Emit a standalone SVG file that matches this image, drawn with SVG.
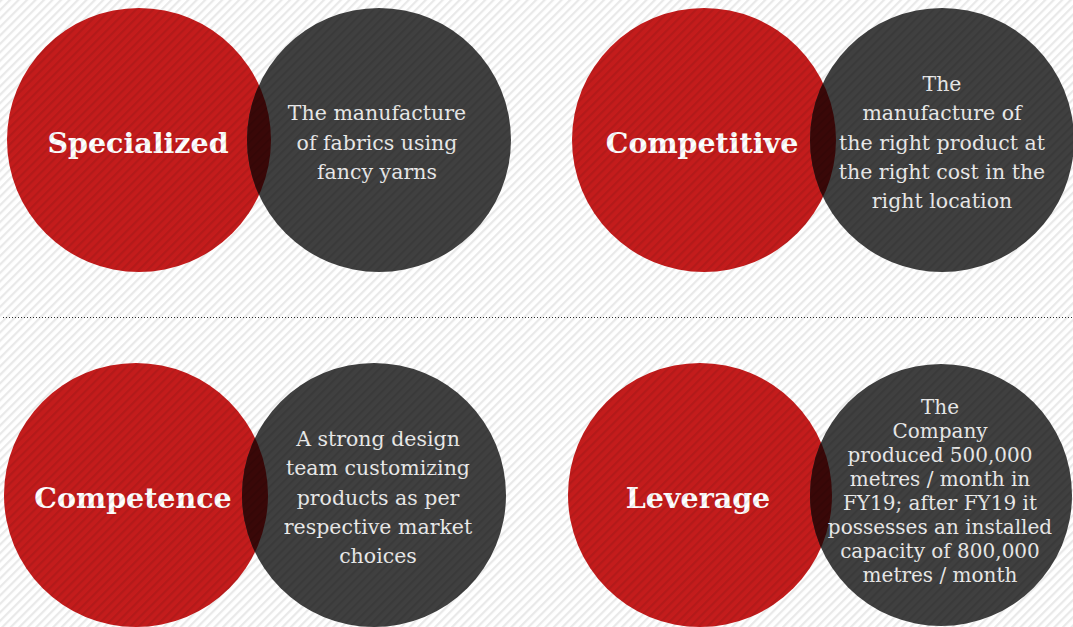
<svg xmlns="http://www.w3.org/2000/svg" width="1073" height="627" viewBox="0 0 1073 627">
<defs>
<pattern id="stripes" width="6" height="6" patternUnits="userSpaceOnUse" patternTransform="rotate(45)">
<rect x="0" y="0" width="2.2" height="6" fill="#000" fill-opacity="0.085"/>
</pattern>
<clipPath id="c1"><circle cx="139" cy="140" r="132"/></clipPath>
<clipPath id="c2"><circle cx="704" cy="140" r="132"/></clipPath>
<clipPath id="c3"><circle cx="136" cy="495" r="132"/></clipPath>
<clipPath id="c4"><circle cx="700" cy="495" r="132"/></clipPath>
<style>
.red{fill:#c41c1c}
.gray{fill:#404040}
.lens{fill:#3a0808}
.title{font-family:"DejaVu Serif","Liberation Serif",serif;font-weight:bold;font-size:28.5px;fill:#ffffff;text-anchor:middle}
.body{font-family:"DejaVu Serif","Liberation Serif",serif;font-size:20.5px;fill:#ececec;text-anchor:middle}
.small{font-size:20px}
.sep{stroke:#333;stroke-width:1.2;stroke-dasharray:1 2;fill:none}
</style>
</defs>
<rect width="1073" height="627" fill="#ffffff"/>

<g id="node-specialized">
<circle class="red" cx="139" cy="140" r="132"/>
<circle class="gray" cx="379" cy="140" r="132"/>
<circle class="lens" cx="379" cy="140" r="132" clip-path="url(#c1)"/>
<text class="title" x="138" y="153">Specialized</text>
<text class="body"><tspan x="377" y="120">The manufacture</tspan><tspan x="377" y="150">of fabrics using</tspan><tspan x="377" y="179">fancy yarns</tspan></text>
</g>
<g id="node-competitive">
<circle class="red" cx="704" cy="140" r="132"/>
<circle class="gray" cx="942" cy="140" r="132"/>
<circle class="lens" cx="942" cy="140" r="132" clip-path="url(#c2)"/>
<text class="title" x="702" y="153">Competitive</text>
<text class="body"><tspan x="942" y="91">The</tspan><tspan x="942" y="120">manufacture of</tspan><tspan x="942" y="150">the right product at</tspan><tspan x="942" y="179">the right cost in the</tspan><tspan x="942" y="208">right location</tspan></text>
</g>
<g id="node-competence">
<circle class="red" cx="136" cy="495" r="132"/>
<circle class="gray" cx="374" cy="495" r="132"/>
<circle class="lens" cx="374" cy="495" r="132" clip-path="url(#c3)"/>
<text class="title" x="133" y="508">Competence</text>
<text class="body"><tspan x="378" y="446">A strong design</tspan><tspan x="378" y="475">team customizing</tspan><tspan x="378" y="505">products as per</tspan><tspan x="378" y="534">respective market</tspan><tspan x="378" y="563">choices</tspan></text>
</g>
<g id="node-leverage">
<circle class="red" cx="700" cy="495" r="132"/>
<circle class="gray" cx="941" cy="495" r="131"/>
<circle class="lens" cx="941" cy="495" r="131" clip-path="url(#c4)"/>
<text class="title" x="698" y="508">Leverage</text>
<text class="body small"><tspan x="940" y="414">The</tspan><tspan x="940" y="438">Company</tspan><tspan x="940" y="462">produced 500,000</tspan><tspan x="940" y="486">metres / month in</tspan><tspan x="940" y="510">FY19; after FY19 it</tspan><tspan x="940" y="534">possesses an installed</tspan><tspan x="940" y="558">capacity of 800,000</tspan><tspan x="940" y="582">metres / month</tspan></text>
</g>
<line class="sep" x1="3" y1="317.5" x2="1073" y2="317.5"/>
<rect width="1073" height="627" fill="url(#stripes)" pointer-events="none"/>
</svg>
